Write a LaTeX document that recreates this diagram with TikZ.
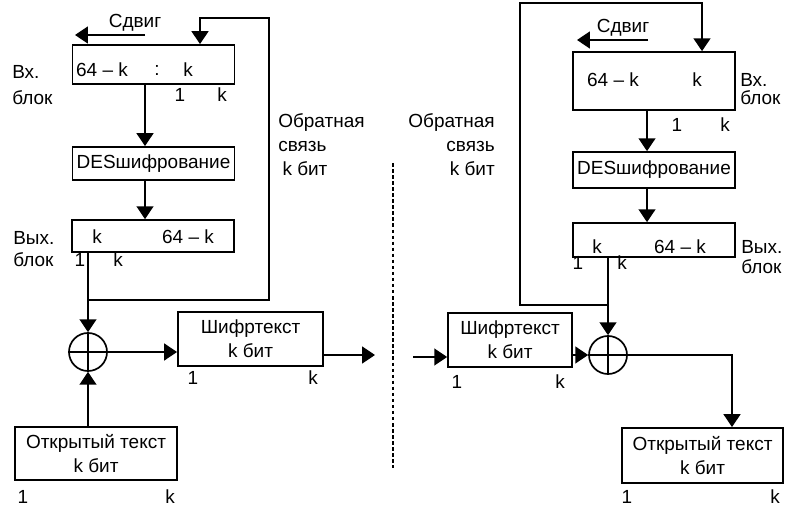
\documentclass[tikz,border=0pt]{standalone}
\usepackage{fontspec}
\setmainfont{Liberation Sans}
\usetikzlibrary{arrows.meta}

\begin{document}
\begin{tikzpicture}[
  x=0.025cm, y=-0.025cm,
  every node/.style={font=\fontsize{13.5}{17}\selectfont, inner sep=0pt},
  block/.style={rectangle, draw, line width=1.2pt, minimum width=4.05cm, align=center},
  xor/.style={circle, draw, line width=1.2pt, minimum size=0.95cm,
    path picture={\draw[line width=1.2pt] (path picture bounding box.north) -- (path picture bounding box.south)
      (path picture bounding box.west) -- (path picture bounding box.east);}},
  arrow/.style={-{Triangle[length=3.2mm,width=4.2mm]}, line width=1.2pt},
  sep/.style={line width=1pt, dash pattern=on 2.5pt off 1.8pt}
]
\useasboundingbox (0,0) rectangle (795,517);

% encryption (left)
\node (sdL) at (135,23) {Сдвиг};
\coordinate (shL0) at (145,35);
\coordinate (shL1) at (75,35);
\node[block, minimum height=0.98cm] (inL) at (153.5,64.5) {};
\node (inaL) at (102,70) {64 – k};
\node (insL) at (157,70) {:};
\node (inbL) at (188,70) {k};
\node (in1L) at (180,95) {1};
\node (inkL) at (222,95) {k};
\node[align=left, anchor=west] (vxL) at (12,85) {Вх.\\[1.7pt]блок};
\node[block, minimum height=0.83cm] (desL) at (153.5,163.5) {DESшифрование};
\node[block, minimum height=0.8cm] (outL) at (153,236) {};
\node (outaL) at (97,237) {k};
\node (outbL) at (188,237) {64 – k};
\node (out1L) at (80,260) {1};
\node (outkL) at (118,260) {k};
\node[align=left, anchor=west] (vyxL) at (13,249) {Вых.\\[-1.2pt]блок};
\node[align=left, anchor=west] (fbtxtL) at (278,145) {Обратная\\связь\\\hspace{3pt}k бит};
\node[xor] (xorL) at (88,352) {};
\node[block, minimum width=3.63cm, minimum height=1.35cm] (ctL) at (250.5,339) {Шифртекст\\k бит};
\node (ct1L) at (193,378) {1};
\node (ctkL) at (313,378) {k};
\node[block, minimum height=1.33cm] (ptL) at (96,453.5) {Открытый текст\\k бит};
\node (pt1L) at (23,497) {1};
\node (ptkL) at (170,497) {k};

\coordinate (colL) at (145,0);
\coordinate (kcolL) at (200,0);
\coordinate (fbL) at (88,300);
\coordinate (fbtopL) at (269,18);
\coordinate (sendL) at (375,355);
\draw[arrow] (shL0) -- (shL1);
\draw[arrow] (inL.south -| colL) -- (desL.north -| colL);
\draw[arrow] (desL.south -| colL) -- (outL.north -| colL);
\draw[arrow] (outL.south -| xorL) -- (xorL.north);
\draw[arrow, line width=1.4pt] (fbL) -| (fbtopL) -| (inL.north -| kcolL);
\draw[arrow] (ptL.north -| xorL) -- (xorL.south);
\draw[arrow] (xorL.east) -- (xorL.east -| ctL.west);
\draw[arrow] (ctL.east |- sendL) -- (sendL);

% channel
\coordinate (sepTop) at (393,163);
\coordinate (sepBot) at (393,468);
\draw[sep] (sepTop) -- (sepBot);

% decryption (right)
\node (sdR) at (623,28) {Сдвиг};
\coordinate (shR0) at (648,40);
\coordinate (shR1) at (577,40);
\node[block, minimum height=1.45cm] (inR) at (654,81) {};
\node (inaR) at (613,80) {64 – k};
\node (inbR) at (697,80) {k};
\node (in1R) at (677,125) {1};
\node (inkR) at (725,125) {k};
\node[align=left, anchor=west] (vxR) at (740,89) {Вх.\\[-4pt]блок};
\node[block, minimum height=0.9cm] (desR) at (654,170) {DESшифрование};
\node[block, minimum height=0.85cm] (outR) at (654,240) {};
\node (outaR) at (597,247) {k};
\node (outbR) at (680,247) {64 – k};
\node (out1R) at (578,263) {1};
\node (outkR) at (622,263) {k};
\node[align=left, anchor=west] (vyxR) at (741,257) {Вых.\\[-2.6pt]блок};
\node[align=right, anchor=east] (fbtxtR) at (495,145) {Обратная\\связь\\k бит};
\node[xor] (xorR) at (608,355) {};
\node[block, minimum width=3.1cm, minimum height=1.35cm] (ctR) at (510,340) {Шифртекст\\k бит};
\node (ct1R) at (457,382) {1};
\node (ctkR) at (560,382) {k};
\node[block, minimum width=4.03cm, minimum height=1.38cm] (ptR) at (702.5,455.5) {Открытый текст\\k бит};
\node (pt1R) at (627,497) {1};
\node (ptkR) at (775,497) {k};

\coordinate (colR) at (647,0);
\coordinate (kcolR) at (702,0);
\coordinate (pcolR) at (732,0);
\coordinate (fbR) at (608,305);
\coordinate (fbtopR) at (520,3);
\coordinate (recvR) at (413,357);
\draw[arrow] (shR0) -- (shR1);
\draw[arrow] (inR.south -| colR) -- (desR.north -| colR);
\draw[arrow] (desR.south -| colR) -- (outR.north -| colR);
\draw[arrow] (outR.south -| xorR) -- (xorR.north);
\draw[arrow, line width=1.4pt] (fbR) -| (fbtopR) -| (inR.north -| kcolR);
\draw[arrow] (recvR) -- (recvR -| ctR.west);
\draw[arrow] (ctR.east |- xorR) -- (xorR.west);
\draw[arrow] (xorR.east) -| (ptR.north -| pcolR);
\end{tikzpicture}
\end{document}
